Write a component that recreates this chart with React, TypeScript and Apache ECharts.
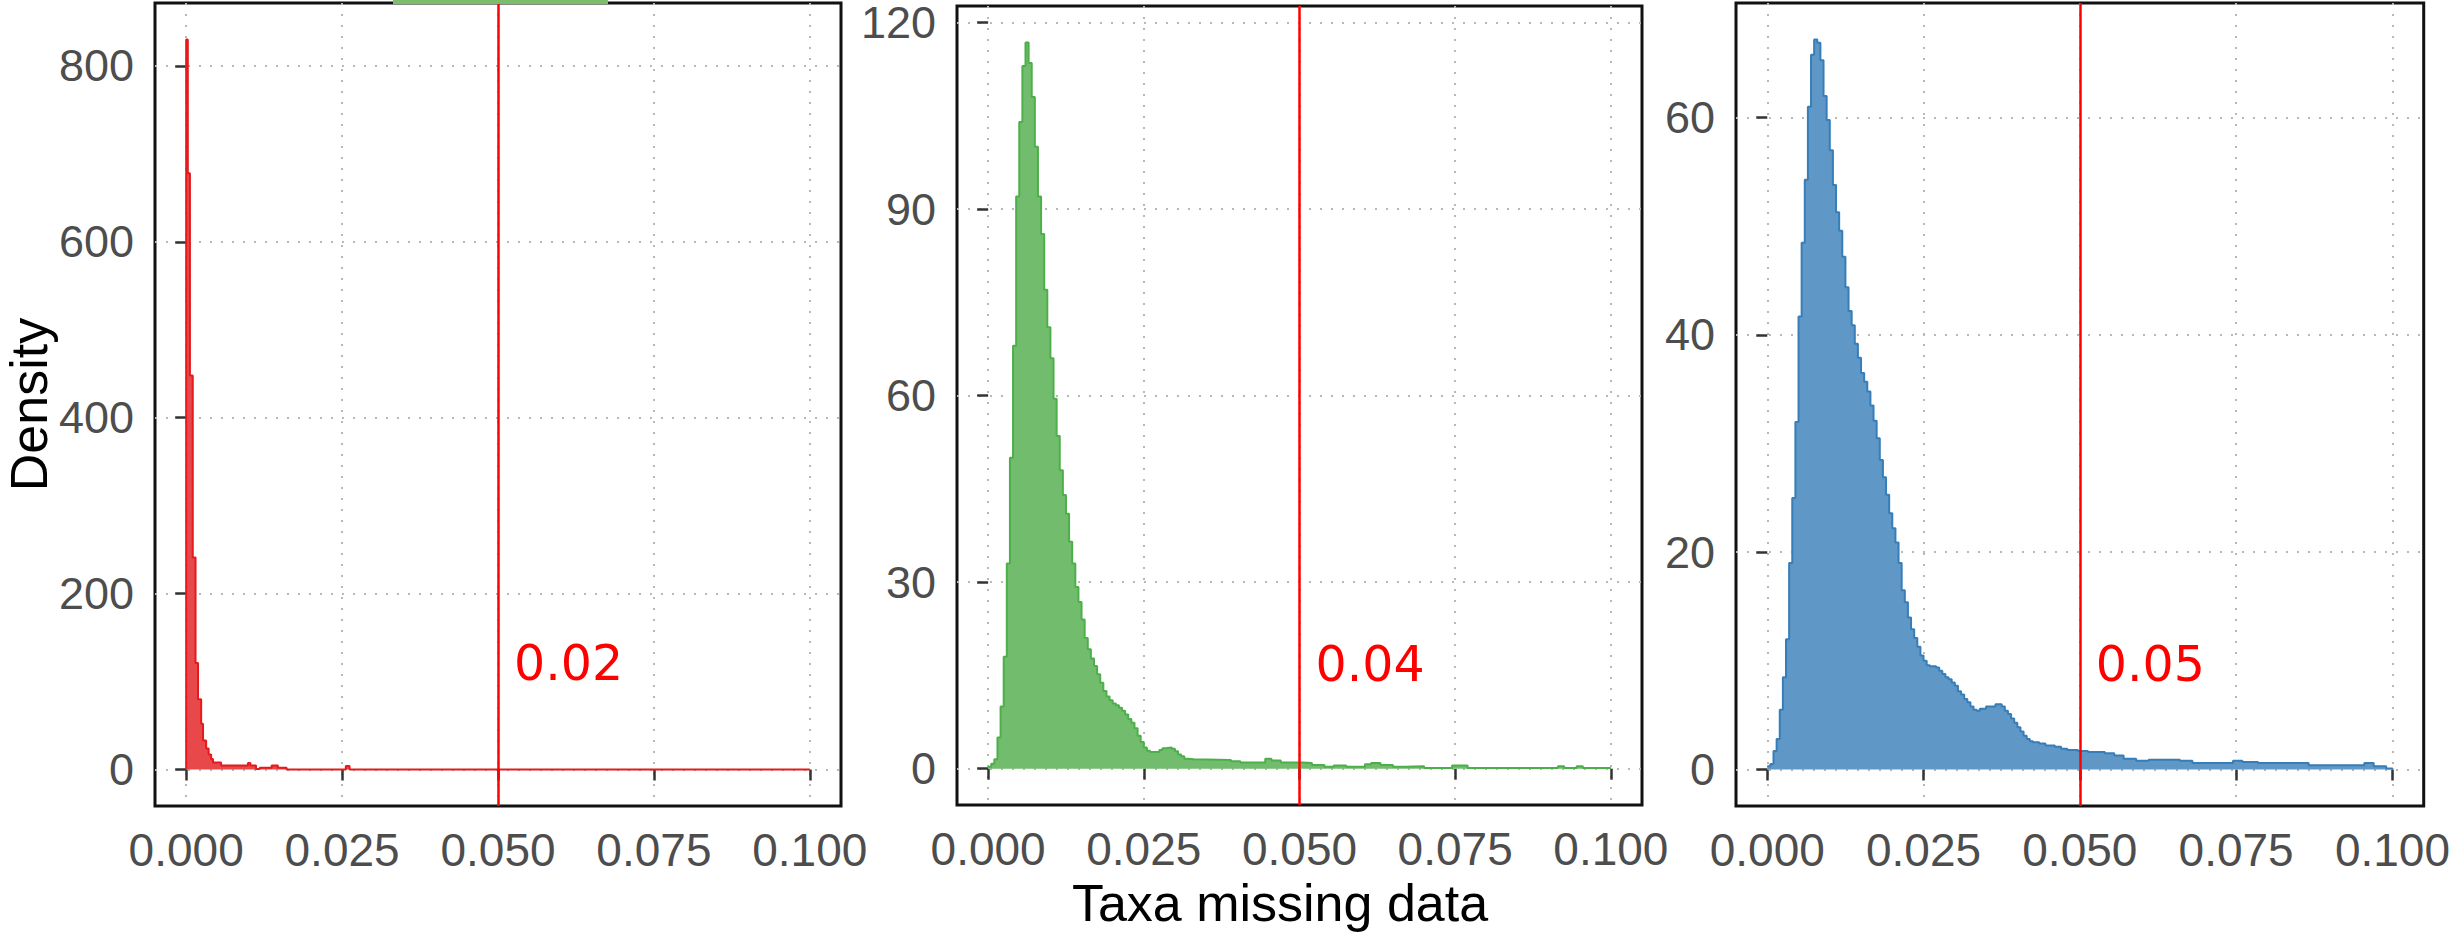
import React, { useEffect, useRef } from "react";
import * as echarts from "echarts";

// ---- data ----
const xTicks = [0, 0.025, 0.05, 0.075, 0.1];
const cutoff = 0.05;
const cutoffLabels = ["0.02", "0.04", "0.05"];
const cutoffLabelHeights = [120, 16.8, 9.7];

const redTicks = [0, 200, 400, 600, 800];
const greenTicks = [0, 30, 60, 90, 120];
const blueTicks = [0, 20, 40, 60];

// [x, density] – step histogram outline (value holds until the next x)
const redBins = [
  [0, 0], [0, 830], [0.00026, 678], [0.0006, 448], [0.00105, 241], [0.0015, 121],
  [0.0019, 80], [0.0024, 52], [0.0027, 33], [0.0032, 24], [0.0036, 17], [0.004, 12],
  [0.0043, 8], [0.0056, 4.5], [0.0099, 7.5], [0.0103, 4.5], [0.0112, 0.5], [0.0118, 2],
  [0.0137, 4.5], [0.0147, 2], [0.0161, 0], [0.0256, 4], [0.0262, 0], [0.1, 0],
];

const greenBins = [
  [0, 0.3], [0.0005, 0.8], [0.001, 1.5], [0.0015, 5], [0.002, 10], [0.0025, 18],
  [0.003, 33], [0.0035, 50], [0.004, 68], [0.0045, 92], [0.005, 104], [0.0055, 113],
  [0.006, 116.8], [0.0065, 113.5], [0.007, 108], [0.0075, 100], [0.008, 92], [0.0085, 86],
  [0.009, 77], [0.0095, 71], [0.01, 66], [0.0105, 59.5], [0.011, 53.5], [0.0115, 48],
  [0.012, 44], [0.0125, 41], [0.013, 36.5], [0.0135, 33], [0.014, 29.2], [0.0145, 26.8],
  [0.015, 24], [0.0155, 21], [0.016, 19.2], [0.0165, 17.7], [0.017, 16.5], [0.0175, 15.2],
  [0.018, 13.8], [0.0185, 12.5], [0.019, 11.6], [0.0195, 11], [0.02, 10.5], [0.0205, 10.2],
  [0.021, 9.8], [0.0215, 9.3], [0.022, 8.7], [0.0225, 8], [0.023, 7.4], [0.0235, 6.5],
  [0.024, 5.3], [0.0245, 4.3], [0.025, 3.4], [0.0255, 2.9], [0.026, 2.7], [0.027, 2.7],
  [0.0275, 3.0], [0.028, 3.3], [0.0285, 3.4], [0.0295, 3.2], [0.03, 2.8], [0.0305, 2.3],
  [0.031, 2.0], [0.0315, 1.6], [0.032, 1.5], [0.033, 1.4], [0.039, 1.2], [0.0405, 1.0],
  [0.0445, 1.6], [0.0455, 1.3], [0.047, 1.0], [0.0505, 0.9], [0.052, 0.6], [0.054, 0.3],
  [0.0555, 0.5], [0.0575, 0.3], [0.0605, 0.7], [0.0615, 0.9], [0.063, 0.6], [0.065, 0.3],
  [0.067, 0.4], [0.07, 0.1], [0.0745, 0.5], [0.077, 0.1], [0.0915, 0.4], [0.0925, 0.1],
  [0.0945, 0.4], [0.0955, 0.1], [0.1, 0],
];

const blueBins = [
  [0, 0.3], [0.0005, 0.5], [0.001, 1.7], [0.0015, 2.8], [0.002, 5.5], [0.0025, 8.5],
  [0.003, 12], [0.0035, 19], [0.004, 25], [0.0045, 32], [0.005, 41.7], [0.0055, 48.5],
  [0.006, 54.3], [0.0065, 61], [0.007, 65.8], [0.0075, 67.2], [0.008, 66.9], [0.0085, 65.3],
  [0.009, 62], [0.0095, 59.8], [0.01, 57], [0.0105, 53.8], [0.011, 51.3], [0.0115, 49.6],
  [0.012, 47.2], [0.0125, 44.4], [0.013, 42.2], [0.0135, 40.9], [0.014, 39.2], [0.0145, 37.9],
  [0.015, 36.5], [0.0155, 35.7], [0.016, 34.8], [0.0165, 33.5], [0.017, 32.1], [0.0175, 30.5],
  [0.018, 28.5], [0.0185, 26.9], [0.019, 25.3], [0.0195, 23.6], [0.02, 22.2], [0.0205, 20.9],
  [0.021, 19], [0.0215, 16.5], [0.022, 15.4], [0.0225, 14], [0.023, 12.9], [0.0235, 12.1],
  [0.024, 11.3], [0.0245, 10.5], [0.025, 10], [0.0255, 9.6], [0.026, 9.5], [0.027, 9.4],
  [0.0275, 9.1], [0.028, 8.8], [0.0285, 8.5], [0.029, 8.3], [0.0295, 8.0], [0.03, 7.7],
  [0.0305, 7.2], [0.031, 6.9], [0.0315, 6.5], [0.032, 6.2], [0.0325, 5.8], [0.033, 5.5],
  [0.0335, 5.4], [0.034, 5.6], [0.035, 5.8], [0.0365, 6.0], [0.0375, 5.8], [0.038, 5.4],
  [0.0385, 5.1], [0.039, 4.7], [0.0395, 4.3], [0.04, 3.9], [0.0405, 3.5], [0.041, 3.1],
  [0.0415, 2.8], [0.042, 2.6], [0.0425, 2.5], [0.0435, 2.4], [0.0445, 2.2], [0.046, 2.1],
  [0.047, 1.9], [0.048, 1.8], [0.0497, 1.7], [0.0513, 1.6], [0.054, 1.5], [0.0555, 1.3],
  [0.057, 1.0], [0.059, 0.8], [0.061, 0.9], [0.066, 0.8], [0.068, 0.6], [0.0745, 0.8],
  [0.076, 0.7], [0.0785, 0.6], [0.0866, 0.4], [0.0955, 0.6], [0.097, 0.3], [0.099, 0.1],
  [0.1, 0],
];

const panels = [
  { bins: redBins, ticks: redTicks, line: "#E41A1C", fill: "#e9484a" },
  { bins: greenBins, ticks: greenTicks, line: "#4DAF4A", fill: "#71bd6d" },
  { bins: blueBins, ticks: blueTicks, line: "#377EB8", fill: "#5f97c6" },
];

const FONT = "'Liberation Sans', Arial, sans-serif";

export default function App() {
  const ref = useRef<HTMLDivElement>(null);

  useEffect(() => {
    if (!ref.current) return;
    const chart = echarts.init(ref.current, undefined, { renderer: "svg" });

    const grids = [
      { left: 155, top: 3, width: 686, height: 803 },
      { left: 957, top: 3, width: 685, height: 803 },
      { left: 1736, top: 3, width: 688, height: 803 },
    ].map((g) => ({
      ...g,
      show: true,
      borderColor: "#111",
      borderWidth: 3,
      backgroundColor: "transparent",
      containLabel: false,
    }));

    const splitLine = {
      show: true,
      lineStyle: { color: "#b8b8b8", width: 2, type: [2, 9] as any },
    };
    const axisTick = (vals: number[]) => ({
      show: true,
      length: 11,
      inside: false,
      customValues: vals,
      lineStyle: { color: "#333", width: 2.5 },
    });

    const xAxes = panels.map((_, i) => ({
      type: "value",
      gridIndex: i,
      min: -0.005,
      max: 0.105,
      axisLine: { show: false },
      axisTick: axisTick(xTicks),
      axisLabel: {
        show: true,
        customValues: xTicks,
        formatter: (v: number) => v.toFixed(3),
        color: "#4d4d4d",
        fontSize: 46,
        lineHeight: 46,
        fontFamily: FONT,
        margin: 21,
      },
      splitLine,
      ...(i === 1
        ? {
            name: "Taxa missing data",
            nameLocation: "middle",
            nameGap: 72,
            nameTextStyle: {
              color: "#000",
              fontSize: 52,
              fontFamily: FONT,
              padding: [0, 39, 0, 0],
            },
          }
        : {}),
    }));

    const yAxes = panels.map((p, i) => {
      const peak = Math.max(...p.bins.map((b) => b[1]));
      return {
        type: "value",
        gridIndex: i,
        min: -peak * 0.05,
        max: peak * 1.05,
        axisLine: { show: false },
        axisTick: axisTick(p.ticks),
        axisLabel: {
          show: true,
          customValues: p.ticks,
          formatter: (v: number) => String(Math.round(v)),
          color: "#4d4d4d",
          fontSize: 45,
          lineHeight: 14,
          padding: [18, 0, 0, 0],
          fontFamily: FONT,
          margin: 21,
        },
        splitLine,
        ...(i === 0
          ? {
              name: "Density",
              nameLocation: "middle",
              nameGap: 100,
              nameTextStyle: { color: "#000", fontSize: 52, lineHeight: 52, fontFamily: FONT },
            }
          : {}),
      };
    });

    const series = panels.map((p, i) => ({
      type: "line",
      xAxisIndex: i,
      yAxisIndex: i,
      data: p.bins,
      step: "end",
      symbol: "none",
      silent: true,
      lineStyle: { color: p.line, width: 2 },
      areaStyle: { color: p.fill, opacity: 1 },
      z: 3,
      markLine: {
        silent: true,
        symbol: ["none", "none"],
        label: { show: false },
        lineStyle: { color: "#ff0000", width: 2.5, type: "solid" },
        emphasis: { disabled: true },
        data: [{ xAxis: cutoff }],
      },
      markPoint: {
        silent: true,
        symbol: "circle",
        symbolSize: 0,
        data: [{ coord: [cutoff, cutoffLabelHeights[i]], value: cutoffLabels[i] }],
        label: {
          show: true,
          position: "right",
          distance: 16,
          formatter: cutoffLabels[i],
          color: "#ff0000",
          fontSize: 49,
          fontFamily: "'DejaVu Sans', sans-serif",
        },
      },
    }));

    chart.setOption({
      animation: false,
      backgroundColor: "#ffffff",
      grid: grids,
      xAxis: xAxes,
      yAxis: yAxes,
      series,
      graphic: [
        {
          type: "rect",
          shape: { x: 393, y: 0, width: 215, height: 4 },
          style: { fill: "#7cbd6c" },
          z: 10,
        },
      ],
    });

    return () => chart.dispose();
  }, []);

  return (
    <div
      ref={ref}
      style={{ position: "fixed", left: 0, top: 0, width: 2453, height: 934, background: "#fff" }}
    />
  );
}
